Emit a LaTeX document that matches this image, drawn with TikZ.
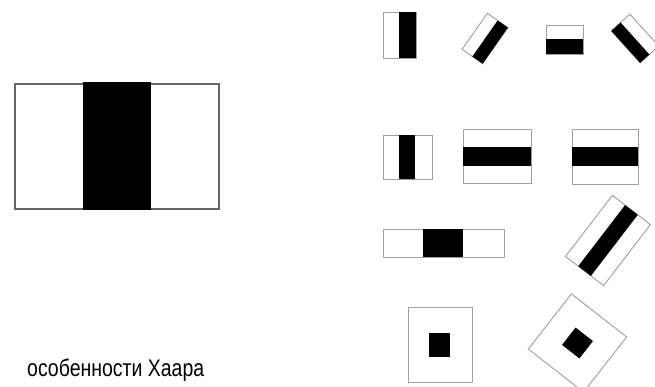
\documentclass[tikz,border=0pt]{standalone}
\usepackage{fontspec}
\usepackage{graphicx}
\setmainfont{Liberation Sans}
\tikzset{
  frame/.style={draw=gray!75, line width=0.9pt, fill=white},
  bigframe/.style={draw=gray!80!black, line width=1.4pt, fill=white},
  blk/.style={fill=black},
}
\begin{document}
\begin{tikzpicture}[x=1pt,y=-1pt]
\useasboundingbox (0,0) rectangle (655,387);
\clip (0,0) rectangle (655,387);
% big feature
\draw[bigframe] (15,84) rectangle (219,209);
\fill[blk] (83,82) rectangle (151,209.7);
% row 1
\draw[frame] (383,12) rectangle (416,58);
\fill[blk] (399,12) rectangle (416,58);
\begin{scope}[shift={(485,38.5)}, rotate=-35]
  \draw[frame] (-12.5,-22) rectangle (12.5,22);
  \fill[blk] (0,-22) rectangle (12.5,22);
\end{scope}
\draw[frame] (546,25) rectangle (583,54);
\fill[blk] (546,39) rectangle (583,54);
\begin{scope}[shift={(635,38.5)}, rotate=42]
  \draw[frame] (-12.5,-21.5) rectangle (12.5,21.5);
  \fill[blk] (-12.5,-21.5) rectangle (0,21.5);
\end{scope}
% row 2
\draw[frame] (383,135) rectangle (432,179);
\fill[blk] (399,135) rectangle (415,179);
\draw[frame] (463,129) rectangle (531,183);
\fill[blk] (463,147) rectangle (531,166);
\draw[frame] (572,129) rectangle (638,184);
\fill[blk] (572,147) rectangle (638,166);
% row 3
\draw[frame] (383,229) rectangle (504,257);
\fill[blk] (423,229) rectangle (463,257);
\begin{scope}[shift={(608,240.5)}, rotate=-37.5]
  \draw[frame] (-24,-38.5) rectangle (24,38.5);
  \fill[blk] (-8,-38.5) rectangle (8,38.5);
\end{scope}
% row 4
\draw[frame] (408,307) rectangle (472,382);
\fill[blk] (429,333) rectangle (450,357);
\begin{scope}[shift={(577.5,343)}, rotate=-38]
  \draw[frame] (-35,-35) rectangle (35,35);
  \fill[blk] (-11,-11) rectangle (11,11);
\end{scope}
% caption
\node[anchor=base west, inner sep=0pt, text=black] (caption) at (27,376.5)
  {\resizebox{177pt}{\height}{\fontsize{24}{26}\selectfont особенности Хаара}};
\end{tikzpicture}
\end{document}
